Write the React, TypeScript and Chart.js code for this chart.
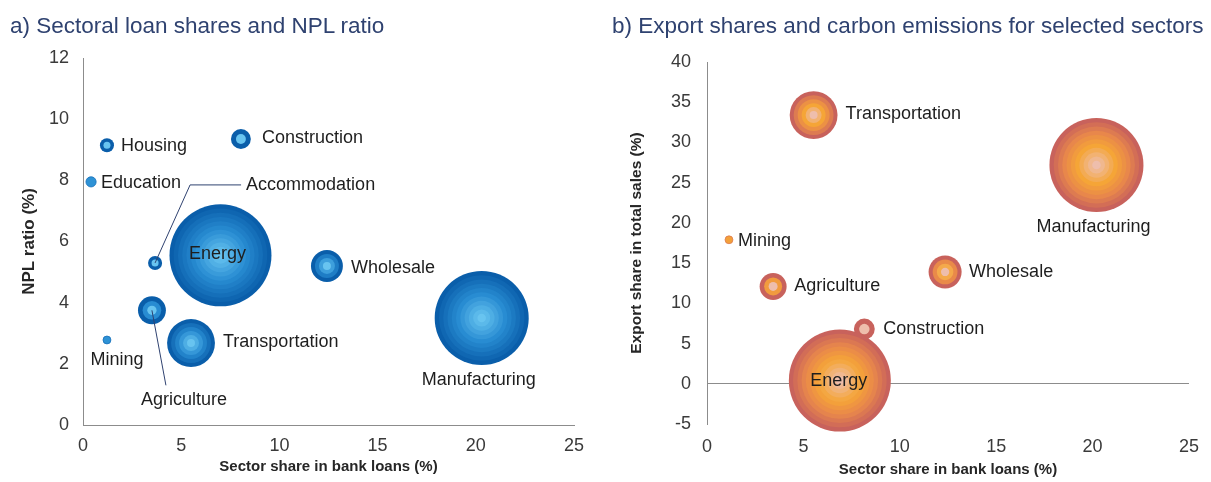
import React, { useEffect, useRef } from "react";
import { Chart, registerables } from "chart.js";
Chart.register(...registerables);

// ---- Panel a) data ----
const sectorsA = ["Housing", "Construction", "Education", "Accommodation", "Energy", "Wholesale", "Agriculture", "Mining", "Transportation", "Manufacturing"];
const loanShareA = [1.22, 8.04, 0.41, 3.67, 7.0, 12.42, 3.51, 1.22, 5.5, 20.3];
const nplRatioA = [9.15, 9.35, 7.95, 5.3, 5.55, 5.2, 3.75, 2.78, 2.68, 3.5];
const bubbleSizeA = [1.9, 3.8, 1.0, 1.9, 100, 9.8, 7.5, 0.6, 22, 85];

// ---- Panel b) data ----
const sectorsB = ["Transportation", "Manufacturing", "Mining", "Wholesale", "Agriculture", "Construction", "Energy"];
const loanShareB = [5.53, 20.2, 1.14, 12.35, 3.43, 8.16, 6.89];
const exportShareB = [33.4, 27.2, 17.9, 13.9, 12.1, 6.8, 0.4];
const bubbleSizeB = [22, 85, 0.6, 10.5, 7, 4.2, 100];

const xTicks = [0, 5, 10, 15, 20, 25];
const yTicksA = [0, 2, 4, 6, 8, 10, 12];
const yTicksB = [-5, 0, 5, 10, 15, 20, 25, 30, 35, 40];

const titleA = "a) Sectoral loan shares and NPL ratio";
const titleB = "b) Export shares and carbon emissions for selected sectors";

const MAX_R = 51;
const FONT = "'Liberation Sans', Arial, sans-serif";
const TICK_COLOR = "#3a3a3a";
const AXIS_COLOR = "#8c8c8c";
const TITLE_COLOR = "#2f4270";

type Stop = [number, number[]];
const blueStops: Stop[] = [
  [0, [104, 196, 240]],
  [0.5, [40, 140, 210]],
  [1, [10, 94, 170]],
];
const orangeStops: Stop[] = [
  [0, [238, 190, 172]],
  [0.4, [245, 165, 55]],
  [0.7, [232, 135, 75]],
  [1, [200, 98, 92]],
];

function lerpColor(stops: Stop[], t: number) {
  for (let i = 1; i < stops.length; i++) {
    if (t <= stops[i][0]) {
      const [t0, c0] = stops[i - 1];
      const [t1, c1] = stops[i];
      const f = (t - t0) / (t1 - t0 || 1);
      const c = c0.map((v, k) => Math.round(v + (c1[k] - v) * f));
      return `rgb(${c[0]},${c[1]},${c[2]})`;
    }
  }
  const c = stops[stops.length - 1][1];
  return `rgb(${c[0]},${c[1]},${c[2]})`;
}

const ringPlugin = {
  id: "rings",
  afterDatasetsDraw(chart: any, _args: any, opts: any) {
    const ctx = chart.ctx;
    ctx.save();
    chart.getSortedVisibleDatasetMetas().forEach((meta: any) => {
      meta.data.forEach((el: any) => {
        const r = el.options.radius;
        const n = Math.max(1, Math.round(r / 4.3));
        if (n === 1) {
          ctx.beginPath();
          ctx.arc(el.x, el.y, r, 0, Math.PI * 2);
          ctx.fillStyle = lerpColor(opts.stops, 0.45);
          ctx.fill();
          ctx.lineWidth = 0.8;
          ctx.strokeStyle = lerpColor(opts.stops, 0.8);
          ctx.stroke();
          return;
        }
        for (let i = n; i >= 1; i--) {
          ctx.beginPath();
          ctx.arc(el.x, el.y, (r * i) / n, 0, Math.PI * 2);
          ctx.fillStyle = lerpColor(opts.stops, (i - 1) / (n - 1));
          ctx.fill();
        }
      });
    });
    ctx.restore();
  },
};

type Place = { dx: number; dy: number; align: "left" | "center"; leader?: number[][] };

const labelPlugin = {
  id: "sectorLabels",
  afterDraw(chart: any, _args: any, opts: any) {
    const ctx = chart.ctx;
    const meta = chart.getDatasetMeta(0);
    ctx.save();
    ctx.font = `18px ${FONT}`;
    ctx.fillStyle = "#1e1e1e";
    ctx.textBaseline = "middle";
    meta.data.forEach((el: any, i: number) => {
      const p: Place = opts.places[i];
      if (p.leader) {
        ctx.beginPath();
        ctx.strokeStyle = "#2f4270";
        ctx.lineWidth = 1;
        ctx.moveTo(el.x, el.y);
        p.leader.forEach(([lx, ly]) => ctx.lineTo(el.x + lx, el.y + ly));
        ctx.stroke();
      }
      ctx.textAlign = p.align;
      ctx.fillText(opts.names[i], el.x + p.dx, el.y + p.dy);
    });
    ctx.restore();
  },
};

const placesA: Place[] = [
  { dx: 14, dy: 1, align: "left" },
  { dx: 21, dy: -1, align: "left" },
  { dx: 10, dy: 1, align: "left" },
  { dx: 91, dy: -78, align: "left", leader: [[35, -78], [86, -78]] },
  { dx: -3, dy: -1, align: "center" },
  { dx: 24, dy: 2, align: "left" },
  { dx: 32, dy: 90, align: "center", leader: [[14, 75]] },
  { dx: 10, dy: 20, align: "center" },
  { dx: 32, dy: -1, align: "left" },
  { dx: -3, dy: 62, align: "center" },
];
const placesB: Place[] = [
  { dx: 32, dy: -1, align: "left" },
  { dx: -3, dy: 62, align: "center" },
  { dx: 9, dy: 1, align: "left" },
  { dx: 24, dy: 0, align: "left" },
  { dx: 21, dy: 0, align: "left" },
  { dx: 19, dy: 0, align: "left" },
  { dx: -1, dy: 0, align: "center" },
];

function radius(size: number) {
  return MAX_R * Math.sqrt(size / 100);
}

function makeConfig(opts: {
  names: string[];
  xs: number[];
  ys: number[];
  sizes: number[];
  stops: Stop[];
  places: Place[];
  yTicks: number[];
  yTitle: string;
  yTitleSize: number;
  padLeft: number;
  padRight: number;
  padTop: number;
  yWidth: number;
  xHeight: number;
  yTickPad: number;
  xTickPad: number;
  xTitlePadBottom: number;
  yTitlePad: number;
  zeroLine: boolean;
  xBorder: boolean;
}): any {
  const data = opts.xs.map((x, i) => ({ x, y: opts.ys[i], r: radius(opts.sizes[i]) }));
  const tickFont = { family: FONT, size: 18 };
  return {
    type: "bubble",
    data: {
      datasets: [
        {
          data,
          backgroundColor: "rgba(0,0,0,0)",
          borderWidth: 0,
          hoverBorderWidth: 0,
          hoverRadius: 0,
        },
      ],
    },
    options: {
      responsive: false,
      animation: false,
      events: [],
      layout: {
        autoPadding: false,
        padding: { left: opts.padLeft, right: opts.padRight, top: opts.padTop, bottom: 0 },
      },
      plugins: {
        legend: { display: false },
        tooltip: { enabled: false },
        title: { display: false },
        rings: { stops: opts.stops },
        sectorLabels: { names: opts.names, places: opts.places },
      },
      scales: {
        x: {
          type: "linear",
          min: xTicks[0],
          max: xTicks[xTicks.length - 1],
          afterBuildTicks: (s: any) => {
            s.ticks = xTicks.map((v) => ({ value: v }));
          },
          ticks: { color: TICK_COLOR, font: tickFont, padding: opts.xTickPad, maxRotation: 0 },
          grid: { display: false, drawTicks: false },
          border: { display: opts.xBorder, color: AXIS_COLOR, width: 1 },
          title: {
            display: true,
            text: "Sector share in bank loans (%)",
            color: "#262626",
            font: { family: FONT, size: 15, weight: "bold", lineHeight: 1.2 },
            padding: { top: 0, bottom: opts.xTitlePadBottom },
          },
          afterFit: (s: any) => {
            s.height = opts.xHeight;
          },
        },
        y: {
          type: "linear",
          min: opts.yTicks[0],
          max: opts.yTicks[opts.yTicks.length - 1],
          afterBuildTicks: (s: any) => {
            s.ticks = opts.yTicks.map((v) => ({ value: v }));
          },
          ticks: { color: TICK_COLOR, font: tickFont, padding: opts.yTickPad },
          grid: opts.zeroLine
            ? {
                display: true,
                drawTicks: false,
                lineWidth: 1,
                color: (c: any) => (c.tick && c.tick.value === 0 ? AXIS_COLOR : "rgba(0,0,0,0)"),
              }
            : { display: false, drawTicks: false },
          border: { display: true, color: AXIS_COLOR, width: 1 },
          title: {
            display: true,
            text: opts.yTitle,
            color: "#262626",
            font: { family: FONT, size: opts.yTitleSize, weight: "bold", lineHeight: 1.2 },
            padding: { top: opts.yTitlePad, bottom: 0 },
          },
          afterFit: (s: any) => {
            s.width = opts.yWidth;
          },
        },
      },
    },
    plugins: [ringPlugin, labelPlugin],
  };
}

function ChartCanvas({ config, width, height, left }: { config: any; width: number; height: number; left: number }) {
  const ref = useRef<HTMLCanvasElement | null>(null);
  useEffect(() => {
    if (!ref.current) return;
    const chart = new Chart(ref.current, config);
    return () => chart.destroy();
  }, [config]);
  return (
    <canvas
      ref={ref}
      width={width}
      height={height}
      style={{ position: "absolute", left, top: 0, width, height }}
    />
  );
}

const configA = makeConfig({
  names: sectorsA,
  xs: loanShareA,
  ys: nplRatioA,
  sizes: bubbleSizeA,
  stops: blueStops,
  places: placesA,
  yTicks: yTicksA,
  yTitle: "NPL ratio (%)",
  yTitleSize: 17,
  padLeft: 10,
  padRight: 26,
  padTop: 58,
  yWidth: 73,
  xHeight: 57,
  yTickPad: 14,
  xTickPad: 10,
  xTitlePadBottom: 6,
  yTitlePad: 9,
  zeroLine: false,
  xBorder: true,
});

const configB = makeConfig({
  names: sectorsB,
  xs: loanShareB,
  ys: exportShareB,
  sizes: bubbleSizeB,
  stops: orangeStops,
  places: placesB,
  yTicks: yTicksB,
  yTitle: "Export share in total sales (%)",
  yTitleSize: 15.5,
  padLeft: 12,
  padRight: 20,
  padTop: 62,
  yWidth: 95,
  xHeight: 58,
  yTickPad: 16,
  xTickPad: 12,
  xTitlePadBottom: 3,
  yTitlePad: 15,
  zeroLine: true,
  xBorder: false,
});

const titleStyle = (left: number, size: number): React.CSSProperties => ({
  position: "absolute",
  left,
  top: 25 - size * 0.6,
  fontFamily: FONT,
  fontSize: size,
  lineHeight: `${size * 1.2}px`,
  color: TITLE_COLOR,
  whiteSpace: "nowrap",
  margin: 0,
  zIndex: 2,
});

export default function App() {
  return (
    <div style={{ position: "absolute", left: 0, top: 0, width: 1211, height: 482, background: "#fff", overflow: "hidden" }}>
      <ChartCanvas config={configA} width={600} height={482} left={0} />
      <ChartCanvas config={configB} width={611} height={482} left={600} />
      <div style={titleStyle(10, 22.5)}>{titleA}</div>
      <div style={titleStyle(612, 22.5)}>{titleB}</div>
    </div>
  );
}
